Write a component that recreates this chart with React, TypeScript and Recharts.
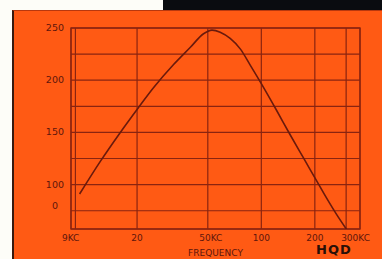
import { LineChart, Line, XAxis, YAxis, CartesianGrid, ReferenceArea } from 'recharts'

// frequency (kc) against response
const FREQ = [9.5, 12.4, 16.1, 20, 24.8, 32.1, 39.9, 47.3, 52.8, 58.7, 66.8, 76.1, 86.6, 99.8, 122, 145, 172, 201, 233, 266, 302]
const RESPONSE = [91, 122, 150, 172, 193, 215, 231.5, 244.5, 248, 246, 240, 230, 214.5, 197, 171, 148, 126, 106, 87, 71, 57]

const X_TICKS = [9, 20, 50, 100, 200, 300]
const X_LABELS: Record<number, string> = { 9: '9KC', 20: '20', 50: '50KC', 100: '100', 200: '200', 300: '300KC' }
const Y_TICKS = [75, 100, 125, 150, 175, 200, 225, 250]
const Y_LABELS: Record<number, string> = { 75: '0', 100: '100', 150: '150', 200: '200', 250: '250' }

const X_DOMAIN = [8.5, 359]
const Y_DOMAIN = [57.5, 250]

const data = FREQ.map((f, i) => ({ f, v: RESPONSE[i] }))

const INK = '#5e160c'
const GRID = '#8a2410'
const FONT = '"DejaVu Sans", sans-serif'

function XTick(props: any) {
  const { x, y, payload, index } = props
  let anchor = 'middle'
  let dx = 0
  if (index === 0) { anchor = 'end'; dx = 4 }
  if (payload.value === 300) { anchor = 'start'; dx = -5 }
  if (payload.value === 50) dx = 3
  return (
    <text x={x + dx} y={y + 4} textAnchor={anchor} fontSize={9} fill={INK} fontFamily={FONT}>
      {X_LABELS[payload.value]}
    </text>
  )
}

function YTick(props: any) {
  const { x, y, payload } = props
  const label = Y_LABELS[payload.value]
  if (!label) return null
  const zero = payload.value === 75
  return (
    <text x={zero ? x - 5 : x + 1} y={zero ? y - 2 : y + 3} textAnchor="end" fontSize={9.5} fill={INK} fontFamily={FONT}>
      {label}
    </text>
  )
}

export default function App() {
  return (
    <div style={{ position: 'fixed', left: 0, top: 0, width: 382, height: 259, background: '#fdfdf8', overflow: 'hidden' }}>
      <div style={{ position: 'absolute', left: 163, top: 0, width: 219, height: 13, background: '#0a0c10' }} />
      <div style={{ position: 'absolute', left: 12, top: 10, width: 370, height: 249, background: '#ff5a14', borderLeft: '2px solid #3a1a0e', borderTop: '1px solid #b8380e' }} />
      <div style={{ position: 'absolute', left: 0, top: 0 }}>
        <LineChart width={382} height={259} data={data} margin={{ top: 28, right: 22, left: 31, bottom: 10 }}>
          <CartesianGrid stroke={GRID} strokeWidth={1.2} />
          <ReferenceArea
            x1={X_DOMAIN[0]}
            x2={X_DOMAIN[1]}
            y1={Y_DOMAIN[0]}
            y2={Y_DOMAIN[1]}
            fill="none"
            stroke={GRID}
            strokeWidth={1.3}
            fillOpacity={0}
          />
          <XAxis
            dataKey="f"
            type="number"
            scale="log"
            domain={X_DOMAIN}
            ticks={X_TICKS}
            allowDataOverflow
            axisLine={false}
            tickLine={false}
            tick={<XTick />}
            height={20}
            interval={0}
            label={{ value: 'FREQUENCY', position: 'insideBottom', offset: -7, fill: INK, fontSize: 9, fontFamily: FONT }}
          />
          <YAxis
            type="number"
            domain={Y_DOMAIN}
            ticks={Y_TICKS}
            allowDataOverflow
            axisLine={false}
            tickLine={false}
            tick={<YTick />}
            width={40}
            interval={0}
          />
          <Line
            type="monotone"
            dataKey="v"
            stroke="#6a1a0c"
            strokeWidth={1.6}
            dot={false}
            isAnimationActive={false}
          />
        </LineChart>
      </div>
      <div style={{ position: 'absolute', left: 316, top: 243, fontFamily: FONT, fontWeight: 'bold', fontSize: 13, lineHeight: '14px', color: '#2a1008', letterSpacing: 1 }}>
        HQD
      </div>
    </div>
  )
}
